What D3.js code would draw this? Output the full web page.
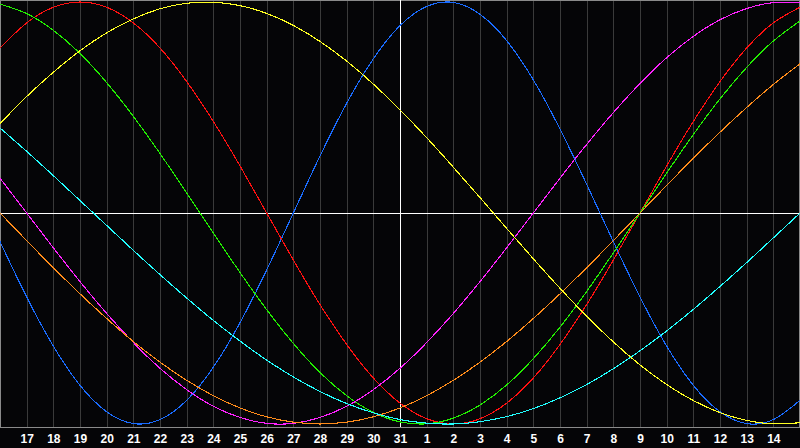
<!DOCTYPE html>
<html>
<head>
<meta charset="utf-8">
<script src="https://cdn.jsdelivr.net/npm/d3@7"></script>
<style>
html,body{margin:0;padding:0;background:#050507;overflow:hidden;}
svg{display:block;}
</style>
</head>
<body>
<svg id="chart" width="800" height="448"></svg>
<script>
// Day labels for positions 0..30 (first and last are at the frame edges, unlabeled)
const dayLabels = [16,17,18,19,20,21,22,23,24,25,26,27,28,29,30,31,1,2,3,4,5,6,7,8,9,10,11,12,13,14,15];

// Cycle values (percent, -100..100) per day
const blue    = [-13.6,-39.8,-63.1,-81.7,-94.2,-99.8,-97.9,-88.8,-73.1,-52.0,-27.0,0,27.0,52.0,73.1,88.8,97.9,99.8,94.2,81.7,63.1,39.8,13.6,-13.6,-39.8,-63.1,-81.7,-94.2,-99.8,-97.9,-88.8];
const red     = [78.2,90.1,97.5,100,97.5,90.1,78.2,62.3,43.4,22.3,0,-22.3,-43.4,-62.3,-78.2,-90.1,-97.5,-100,-97.5,-90.1,-78.2,-62.3,-43.4,-22.3,0,22.3,43.4,62.3,78.2,90.1,97.5];
const green   = [99.0,94.5,86.6,75.6,61.8,45.8,28.2,9.5,-9.5,-28.2,-45.8,-61.8,-75.6,-86.6,-94.5,-99.0,-99.9,-97.2,-91.0,-81.5,-69.0,-54.1,-37.2,-18.9,0,18.9,37.2,54.1,69.0,81.5,91.0];
const magenta = [16.5,0,-16.5,-32.5,-47.6,-61.4,-73.6,-83.7,-91.6,-96.9,-99.7,-99.7,-96.9,-91.6,-83.7,-73.6,-61.4,-47.6,-32.5,-16.5,0,16.5,32.5,47.6,61.4,73.6,83.7,91.6,96.9,99.7,99.7];
const yellow  = [42.4,55.2,66.7,76.9,85.4,92.0,96.8,99.4,99.9,98.3,94.6,88.9,81.3,72.0,61.1,48.9,35.7,21.7,7.3,-7.3,-21.7,-35.7,-48.9,-61.1,-72.0,-81.3,-88.9,-94.6,-98.3,-99.9,-99.4];
const orange  = [0,-13.1,-25.9,-38.3,-50.0,-60.9,-70.7,-79.3,-86.6,-92.4,-96.6,-99.1,-100,-99.1,-96.6,-92.4,-86.6,-79.3,-70.7,-60.9,-50.0,-38.3,-25.9,-13.1,0,13.1,25.9,38.3,50.0,60.9,70.7];
const cyan    = [40.3,29.2,17.7,5.9,-5.9,-17.7,-29.2,-40.3,-50.9,-60.7,-69.7,-77.7,-84.6,-90.3,-94.7,-97.9,-99.6,-100,-98.9,-96.5,-92.7,-87.6,-81.3,-73.8,-65.3,-55.9,-45.7,-34.8,-23.5,-11.8,0];

const seriesList = [
  {name:"blue", values: blue, color:"#1a6cff"},
  {name:"red", values: red, color:"#ff1010"},
  {name:"green", values: green, color:"#22ee00"},
  {name:"magenta", values: magenta, color:"#ff22ff"},
  {name:"orange", values: orange, color:"#ff8c1a"},
  {name:"yellow", values: yellow, color:"#ffff22"},
  {name:"cyan", values: cyan, color:"#22ffff"}
];

const svg = d3.select("#chart");
const W = 800, plotBottom = 427;

const x = d3.scaleLinear().domain([0, dayLabels.length - 1]).range([0, W]);
const y = d3.scaleLinear().domain([-100, 100]).range([424, 2]);

svg.append("rect").attr("x",0).attr("y",0).attr("width",800).attr("height",448).attr("fill","#050507");

// vertical day grid lines
const idx = d3.range(1, dayLabels.length - 1);
svg.append("g").selectAll("line").data(idx).join("line")
  .attr("x1", d => Math.round(x(d)) + 0.5).attr("x2", d => Math.round(x(d)) + 0.5)
  .attr("y1", 0).attr("y2", plotBottom)
  .attr("stroke", "#3a3a3a").attr("stroke-width", 1)
  .attr("shape-rendering", "crispEdges");

// frame
svg.append("rect").attr("x",0.5).attr("y",0.5).attr("width",W-1).attr("height",plotBottom)
  .attr("fill","none").attr("stroke","#8a8a8a").attr("stroke-width",1)
  .attr("shape-rendering","crispEdges");

// center axes (white)
svg.append("line").attr("x1",0).attr("x2",W)
  .attr("y1", Math.round(y(0)) + 0.5).attr("y2", Math.round(y(0)) + 0.5)
  .attr("stroke","#ffffff").attr("shape-rendering","crispEdges");
svg.append("line").attr("x1", Math.round(x(15)) + 0.5).attr("x2", Math.round(x(15)) + 0.5)
  .attr("y1", 0).attr("y2", plotBottom)
  .attr("stroke","#ffffff").attr("shape-rendering","crispEdges");

// curves
const line = d3.line()
  .x((d, i) => x(i))
  .y(d => y(d))
  .curve(d3.curveNatural);

svg.append("g").selectAll("path").data(seriesList).join("path")
  .attr("d", d => line(d.values))
  .attr("fill","none")
  .attr("stroke", d => d.color)
  .attr("stroke-width", 1.1)
  .attr("shape-rendering","crispEdges");

// day labels
svg.append("g").selectAll("text").data(idx).join("text")
  .attr("x", d => x(d) + 0.5)
  .attr("y", 443)
  .attr("text-anchor","middle")
  .attr("fill","#ffffff")
  .attr("font-family","'Liberation Sans', Arial, sans-serif")
  .attr("font-weight","bold")
  .attr("font-size","12px")
  .text(d => dayLabels[d]);
</script>
</body>
</html>
